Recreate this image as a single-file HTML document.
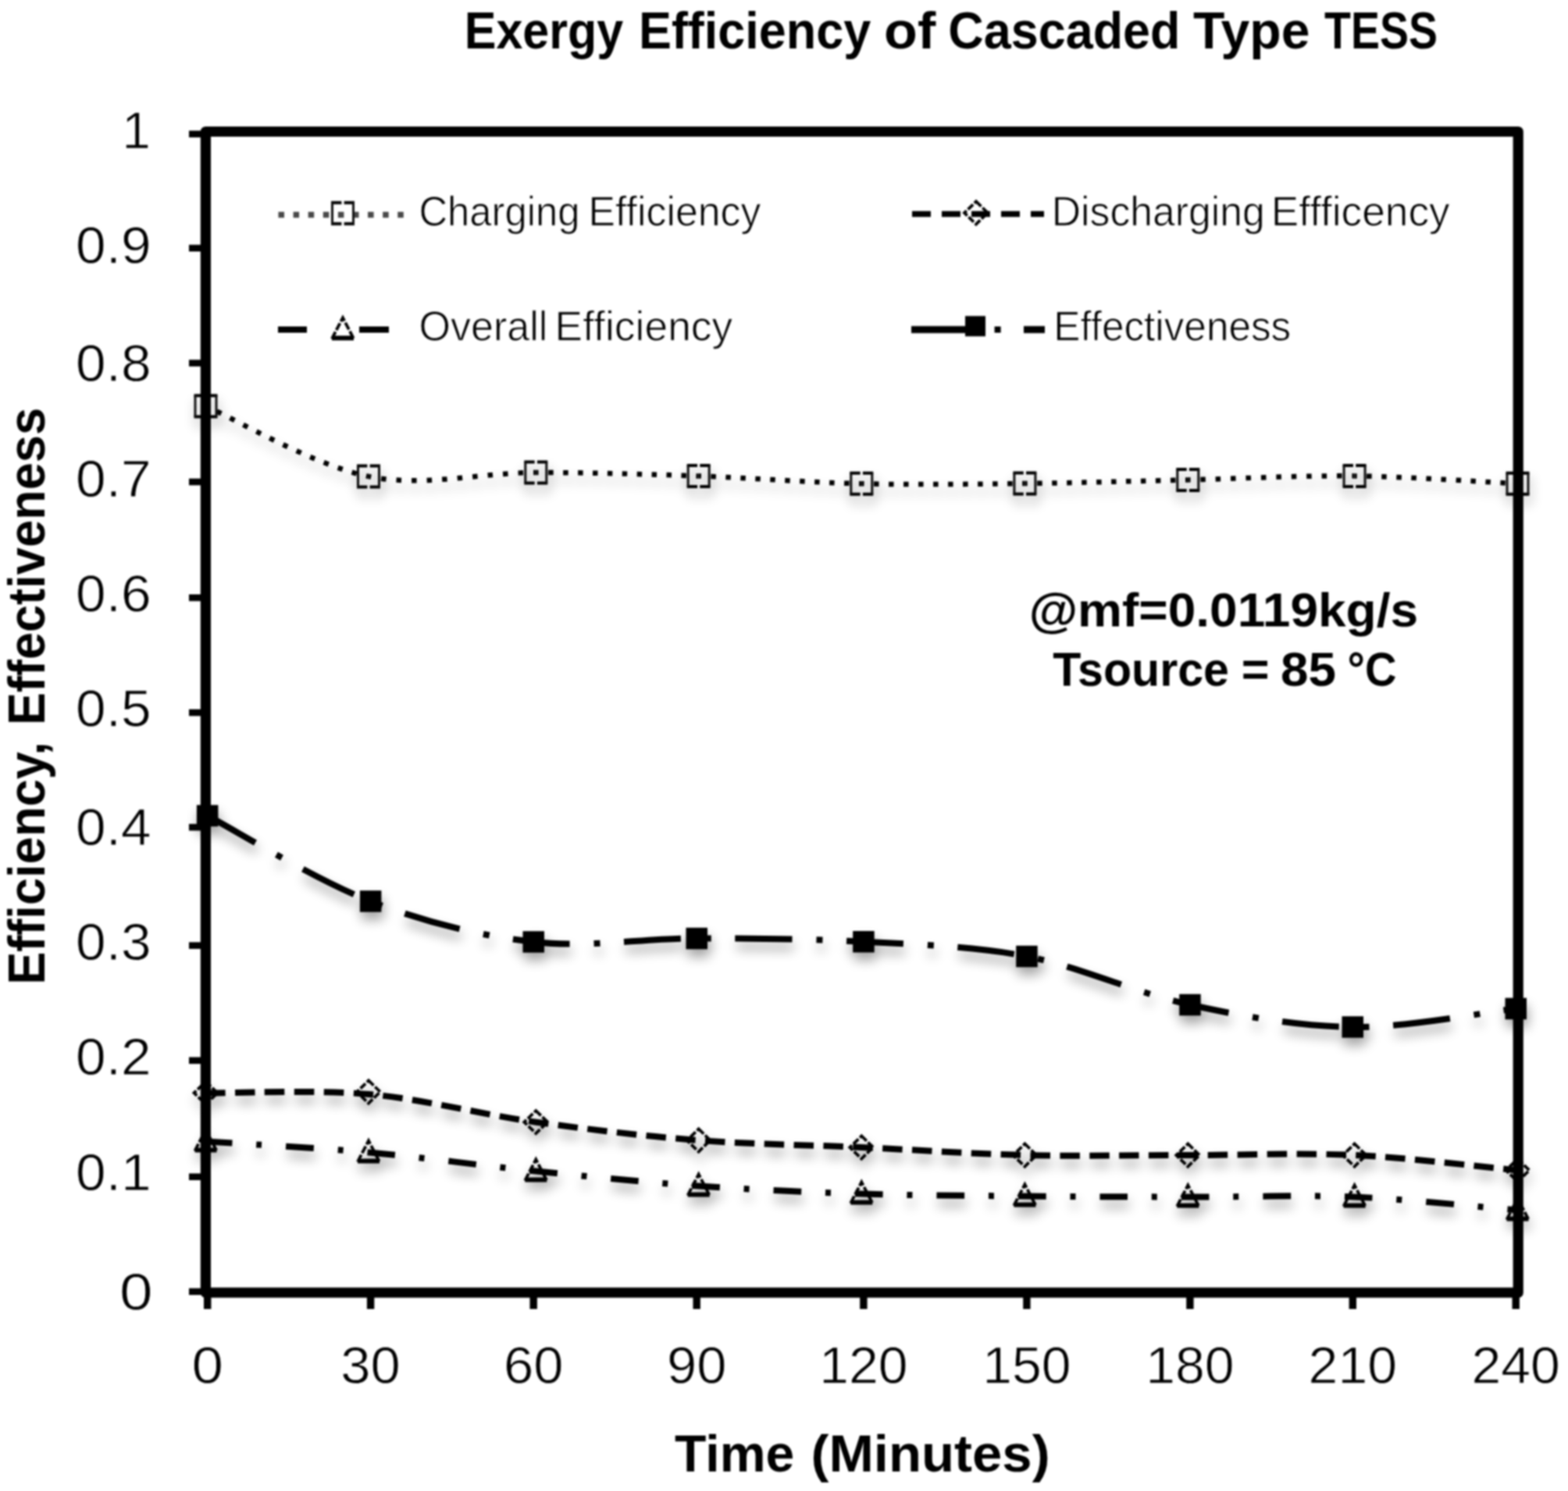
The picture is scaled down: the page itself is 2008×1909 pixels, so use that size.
<!DOCTYPE html>
<html><head><meta charset="utf-8"><title>Exergy Efficiency of Cascaded Type TESS</title>
<style>html,body{margin:0;padding:0;background:#fff;}body{width:2008px;height:1909px;overflow:hidden;}svg{display:block;filter:blur(1.1px);}</style>
</head><body>
<svg width="2008" height="1909" viewBox="0 0 2008 1909"><defs><filter id="sh" x="-5%" y="-10%" width="110%" height="130%"><feGaussianBlur in="SourceAlpha" stdDeviation="7.5"/><feOffset dx="2" dy="10" result="b"/><feComponentTransfer in="b" result="c"><feFuncA type="linear" slope="0.36"/></feComponentTransfer><feMerge><feMergeNode in="c"/><feMergeNode in="SourceGraphic"/></feMerge></filter></defs>
<text y="62.0" font-family="Liberation Sans, sans-serif" font-weight="bold" font-size="67" ><tspan x="594.7" textLength="203.6" lengthAdjust="spacingAndGlyphs">Exergy</tspan> <tspan x="817.9" textLength="297.5" lengthAdjust="spacingAndGlyphs">Efficiency</tspan> <tspan x="1132.1" textLength="66.2" lengthAdjust="spacingAndGlyphs">of</tspan> <tspan x="1214.3" textLength="297.2" lengthAdjust="spacingAndGlyphs">Cascaded</tspan> <tspan x="1528.0" textLength="149.4" lengthAdjust="spacingAndGlyphs">Type</tspan> <tspan x="1696.0" textLength="145.0" lengthAdjust="spacingAndGlyphs">TESS</tspan></text>
<text x="195.5" y="1676.7" text-anchor="end" font-family="Liberation Sans, sans-serif" font-size="66" textLength="42.6" lengthAdjust="spacingAndGlyphs" stroke="#fff" stroke-width="0.8">0</text>
<text x="193.5" y="1524.0" text-anchor="end" font-family="Liberation Sans, sans-serif" font-size="66" textLength="96.4" lengthAdjust="spacingAndGlyphs" stroke="#fff" stroke-width="0.8">0.1</text>
<text x="193.5" y="1376.4" text-anchor="end" font-family="Liberation Sans, sans-serif" font-size="66" textLength="96.4" lengthAdjust="spacingAndGlyphs" stroke="#fff" stroke-width="0.8">0.2</text>
<text x="193.5" y="1229.3" text-anchor="end" font-family="Liberation Sans, sans-serif" font-size="66" textLength="96.4" lengthAdjust="spacingAndGlyphs" stroke="#fff" stroke-width="0.8">0.3</text>
<text x="193.5" y="1082.1" text-anchor="end" font-family="Liberation Sans, sans-serif" font-size="66" textLength="96.4" lengthAdjust="spacingAndGlyphs" stroke="#fff" stroke-width="0.8">0.4</text>
<text x="193.5" y="930.0" text-anchor="end" font-family="Liberation Sans, sans-serif" font-size="66" textLength="96.4" lengthAdjust="spacingAndGlyphs" stroke="#fff" stroke-width="0.8">0.5</text>
<text x="193.5" y="782.9" text-anchor="end" font-family="Liberation Sans, sans-serif" font-size="66" textLength="96.4" lengthAdjust="spacingAndGlyphs" stroke="#fff" stroke-width="0.8">0.6</text>
<text x="193.5" y="635.7" text-anchor="end" font-family="Liberation Sans, sans-serif" font-size="66" textLength="96.4" lengthAdjust="spacingAndGlyphs" stroke="#fff" stroke-width="0.8">0.7</text>
<text x="193.5" y="488.3" text-anchor="end" font-family="Liberation Sans, sans-serif" font-size="66" textLength="96.4" lengthAdjust="spacingAndGlyphs" stroke="#fff" stroke-width="0.8">0.8</text>
<text x="193.5" y="336.9" text-anchor="end" font-family="Liberation Sans, sans-serif" font-size="66" textLength="96.4" lengthAdjust="spacingAndGlyphs" stroke="#fff" stroke-width="0.8">0.9</text>
<text x="193" y="189.7" text-anchor="end" font-family="Liberation Sans, sans-serif" font-size="66" stroke="#fff" stroke-width="0.8">1</text>
<text x="265.7" y="1771" text-anchor="middle" font-family="Liberation Sans, sans-serif" font-size="66" textLength="40.5" lengthAdjust="spacingAndGlyphs" stroke="#fff" stroke-width="0.8">0</text>
<text x="474.6" y="1771" text-anchor="middle" font-family="Liberation Sans, sans-serif" font-size="66" textLength="76.5" lengthAdjust="spacingAndGlyphs" stroke="#fff" stroke-width="0.8">30</text>
<text x="683.2" y="1771" text-anchor="middle" font-family="Liberation Sans, sans-serif" font-size="66" textLength="76.5" lengthAdjust="spacingAndGlyphs" stroke="#fff" stroke-width="0.8">60</text>
<text x="892.2" y="1771" text-anchor="middle" font-family="Liberation Sans, sans-serif" font-size="66" textLength="76.5" lengthAdjust="spacingAndGlyphs" stroke="#fff" stroke-width="0.8">90</text>
<text x="1105.9" y="1771" text-anchor="middle" font-family="Liberation Sans, sans-serif" font-size="66" textLength="113.5" lengthAdjust="spacingAndGlyphs" stroke="#fff" stroke-width="0.8">120</text>
<text x="1314.9" y="1771" text-anchor="middle" font-family="Liberation Sans, sans-serif" font-size="66" textLength="113.5" lengthAdjust="spacingAndGlyphs" stroke="#fff" stroke-width="0.8">150</text>
<text x="1523.9" y="1771" text-anchor="middle" font-family="Liberation Sans, sans-serif" font-size="66" textLength="113.5" lengthAdjust="spacingAndGlyphs" stroke="#fff" stroke-width="0.8">180</text>
<text x="1732.3" y="1771" text-anchor="middle" font-family="Liberation Sans, sans-serif" font-size="66" textLength="113.5" lengthAdjust="spacingAndGlyphs" stroke="#fff" stroke-width="0.8">210</text>
<text x="1941.2" y="1771" text-anchor="middle" font-family="Liberation Sans, sans-serif" font-size="66" textLength="113.5" lengthAdjust="spacingAndGlyphs" stroke="#fff" stroke-width="0.8">240</text>
<text y="1884.3" font-family="Liberation Sans, sans-serif" font-weight="bold" font-size="67" ><tspan x="864.0" textLength="153.4" lengthAdjust="spacingAndGlyphs">Time</tspan> <tspan x="1038.5" textLength="306.1" lengthAdjust="spacingAndGlyphs">(Minutes)</tspan></text>
<text transform="translate(56.5,1257) rotate(-90)" y="0.0" font-family="Liberation Sans, sans-serif" font-weight="bold" font-size="67" ><tspan x="-3.8" textLength="311.1" lengthAdjust="spacingAndGlyphs">Efficiency,</tspan> <tspan x="328.4" textLength="406.6" lengthAdjust="spacingAndGlyphs">Effectiveness</tspan></text>
<text y="801.6" font-family="Liberation Sans, sans-serif" font-weight="bold" font-size="61" ><tspan x="1317.7" textLength="498.4" lengthAdjust="spacingAndGlyphs">@mf=0.0119kg/s</tspan></text>
<text y="878.2" font-family="Liberation Sans, sans-serif" font-weight="bold" font-size="61" ><tspan x="1348.3" textLength="225.7" lengthAdjust="spacingAndGlyphs">Tsource</tspan> <tspan x="1589.8" textLength="35.7" lengthAdjust="spacingAndGlyphs">=</tspan> <tspan x="1640.0" textLength="71.0" lengthAdjust="spacingAndGlyphs">85</tspan> <tspan x="1725.5" textLength="62.9" lengthAdjust="spacingAndGlyphs">°C</tspan></text>
<line x1="356.5" y1="275" x2="520" y2="275" stroke="#484848" stroke-width="7.5" stroke-dasharray="7.5 11.6"/>
<path d="M424.0,259.5 H454.0 M424.0,286.5 H454.0" fill="none" stroke="#000" stroke-width="4" stroke-dasharray="13.38 3.24 13.38 0"/><path d="M425.5,259.5 V286.5 M452.5,259.5 V286.5" fill="none" stroke="#111" stroke-width="3"/>
<text y="289.3" font-family="Liberation Sans, sans-serif" font-weight="normal" font-size="53" fill="#000" stroke="#fff" stroke-width="0.9"><tspan x="536.4" textLength="206.2" lengthAdjust="spacingAndGlyphs">Charging</tspan> <tspan x="753.5" textLength="220.9" lengthAdjust="spacingAndGlyphs">Efficiency</tspan></text>
<line x1="1168" y1="274" x2="1337" y2="274" stroke="#000" stroke-width="7.5" stroke-dasharray="24 14"/>
<path d="M1250.0,258.0 L1265.0,272.5 L1250.0,287.0 L1235.0,272.5 Z" fill="none" stroke="#000" stroke-width="3.8" stroke-dasharray="9 2.5"/>
<text y="288.5" font-family="Liberation Sans, sans-serif" font-weight="normal" font-size="53" fill="#000" stroke="#fff" stroke-width="0.9"><tspan x="1346.7" textLength="273.1" lengthAdjust="spacingAndGlyphs">Discharging</tspan> <tspan x="1627.8" textLength="228.9" lengthAdjust="spacingAndGlyphs">Effficency</tspan></text>
<line x1="356" y1="422" x2="393" y2="422" stroke="#000" stroke-width="8"/>
<line x1="460" y1="422" x2="498" y2="422" stroke="#000" stroke-width="8"/>
<path d="M425.0,432.8 L453.0,432.8" fill="none" stroke="#000" stroke-width="6"/><path d="M425.0,433.8 L439.0,406.8 L453.0,433.8" fill="none" stroke="#000" stroke-width="3.8" stroke-dasharray="10 2.5"/>
<text y="436.0" font-family="Liberation Sans, sans-serif" font-weight="normal" font-size="53" fill="#000" stroke="#fff" stroke-width="0.9"><tspan x="536.4" textLength="165.0" lengthAdjust="spacingAndGlyphs">Overall</tspan> <tspan x="710.6" textLength="227.7" lengthAdjust="spacingAndGlyphs">Efficiency</tspan></text>
<line x1="1167" y1="422" x2="1240" y2="422" stroke="#000" stroke-width="9"/>
<rect x="1236.0" y="404.6" width="26.0" height="26.0" fill="#000"/>
<rect x="1273.6" y="418" width="8" height="8" fill="#000"/>
<line x1="1311" y1="422" x2="1338" y2="422" stroke="#000" stroke-width="9"/>
<text y="436.4" font-family="Liberation Sans, sans-serif" font-weight="normal" font-size="53" fill="#000" stroke="#fff" stroke-width="0.9"><tspan x="1349.2" textLength="304.0" lengthAdjust="spacingAndGlyphs">Effectiveness</tspan></text>
<g filter="url(#sh)"><path d="M263.5,520.0 C298.2,535.0 401.5,595.8 472.0,610.0" fill="none" stroke="#000" stroke-width="6.5" stroke-dasharray="6.5 12.474" stroke-dashoffset="3.25"/><path d="M472.0,610.0 C542.5,624.2 615.8,605.1 686.3,605.0" fill="none" stroke="#000" stroke-width="6.5" stroke-dasharray="6.5 13.048" stroke-dashoffset="3.25"/><path d="M686.3,605.0 C756.8,604.9 825.2,607.1 894.7,609.5" fill="none" stroke="#000" stroke-width="6.5" stroke-dasharray="6.5 12.451" stroke-dashoffset="3.25"/><path d="M894.7,609.5 C964.2,611.9 1033.7,617.7 1103.3,619.3" fill="none" stroke="#000" stroke-width="6.5" stroke-dasharray="6.5 12.485" stroke-dashoffset="3.25"/><path d="M1103.3,619.3 C1172.9,620.9 1242.7,619.8 1312.4,619.0" fill="none" stroke="#000" stroke-width="6.5" stroke-dasharray="6.5 12.510" stroke-dashoffset="3.25"/><path d="M1312.4,619.0 C1382.1,618.2 1450.9,616.0 1521.3,614.4" fill="none" stroke="#000" stroke-width="6.5" stroke-dasharray="6.5 12.496" stroke-dashoffset="3.25"/><path d="M1521.3,614.4 C1591.7,612.8 1664.2,608.6 1734.6,609.4" fill="none" stroke="#000" stroke-width="6.5" stroke-dasharray="6.5 12.898" stroke-dashoffset="3.25"/><path d="M1734.6,609.4 C1805.0,610.2 1908.7,617.6 1943.5,619.3" fill="none" stroke="#000" stroke-width="6.5" stroke-dasharray="6.5 12.514" stroke-dashoffset="3.25"/><path d="M265.7,1044.4 C300.5,1062.7 405.0,1127.1 474.6,1154.0 C544.2,1180.9 613.6,1198.1 683.2,1206.0 C752.8,1213.9 821.8,1201.5 892.2,1201.5 C962.7,1201.5 1035.5,1201.9 1105.9,1205.7 C1176.4,1209.5 1245.2,1211.1 1314.9,1224.6 C1384.6,1238.1 1454.3,1271.4 1523.9,1286.5 C1593.5,1301.6 1662.8,1314.2 1732.3,1315.0 C1801.8,1315.8 1906.4,1295.3 1941.2,1291.4" fill="none" stroke="#000" stroke-width="8" stroke-dasharray="73 31 8 30.55" stroke-dashoffset="2.54"/><path d="M263.5,1399.5 C298.2,1399.8 401.5,1394.8 472.0,1401.0 C542.5,1407.2 615.8,1426.9 686.3,1436.7 C756.8,1446.5 825.2,1454.6 894.7,1460.0 C964.2,1465.4 1033.7,1465.8 1103.3,1469.0 C1172.9,1472.2 1242.7,1477.3 1312.4,1479.0 C1382.1,1480.7 1450.9,1479.0 1521.3,1479.0 C1591.7,1479.0 1664.2,1475.8 1734.6,1479.0 C1805.0,1482.2 1908.7,1495.2 1943.5,1498.4" fill="none" stroke="#000" stroke-width="8" stroke-dasharray="25.5 12.4" stroke-dashoffset="0.33"/><path d="M263.5,1461.5 C298.2,1463.8 401.5,1469.2 472.0,1475.5 C542.5,1481.8 615.8,1492.3 686.3,1499.5 C756.8,1506.7 825.2,1513.7 894.7,1518.5 C964.2,1523.3 1033.7,1526.3 1103.3,1528.5 C1172.9,1530.7 1242.7,1530.8 1312.4,1531.5 C1382.1,1532.2 1450.9,1532.3 1521.3,1532.5 C1591.7,1532.7 1664.2,1529.7 1734.6,1532.5 C1805.0,1535.3 1908.7,1546.7 1943.5,1549.5" fill="none" stroke="#000" stroke-width="8" stroke-dasharray="35.7 30.8 7 31" stroke-dashoffset="1.59"/><path d="M248.5,506.5 H278.5 M248.5,533.5 H278.5" fill="none" stroke="#000" stroke-width="4" stroke-dasharray="13.38 3.24 13.38 0"/><path d="M250.0,506.5 V533.5 M277.0,506.5 V533.5" fill="none" stroke="#111" stroke-width="3"/><path d="M457.0,596.5 H487.0 M457.0,623.5 H487.0" fill="none" stroke="#000" stroke-width="4" stroke-dasharray="13.38 3.24 13.38 0"/><path d="M458.5,596.5 V623.5 M485.5,596.5 V623.5" fill="none" stroke="#111" stroke-width="3"/><path d="M671.3,591.5 H701.3 M671.3,618.5 H701.3" fill="none" stroke="#000" stroke-width="4" stroke-dasharray="13.38 3.24 13.38 0"/><path d="M672.8,591.5 V618.5 M699.8,591.5 V618.5" fill="none" stroke="#111" stroke-width="3"/><path d="M879.7,596.0 H909.7 M879.7,623.0 H909.7" fill="none" stroke="#000" stroke-width="4" stroke-dasharray="13.38 3.24 13.38 0"/><path d="M881.2,596.0 V623.0 M908.2,596.0 V623.0" fill="none" stroke="#111" stroke-width="3"/><path d="M1088.3,605.8 H1118.3 M1088.3,632.8 H1118.3" fill="none" stroke="#000" stroke-width="4" stroke-dasharray="13.38 3.24 13.38 0"/><path d="M1089.8,605.8 V632.8 M1116.8,605.8 V632.8" fill="none" stroke="#111" stroke-width="3"/><path d="M1297.4,605.5 H1327.4 M1297.4,632.5 H1327.4" fill="none" stroke="#000" stroke-width="4" stroke-dasharray="13.38 3.24 13.38 0"/><path d="M1298.9,605.5 V632.5 M1325.9,605.5 V632.5" fill="none" stroke="#111" stroke-width="3"/><path d="M1506.3,600.9 H1536.3 M1506.3,627.9 H1536.3" fill="none" stroke="#000" stroke-width="4" stroke-dasharray="13.38 3.24 13.38 0"/><path d="M1507.8,600.9 V627.9 M1534.8,600.9 V627.9" fill="none" stroke="#111" stroke-width="3"/><path d="M1719.6,595.9 H1749.6 M1719.6,622.9 H1749.6" fill="none" stroke="#000" stroke-width="4" stroke-dasharray="13.38 3.24 13.38 0"/><path d="M1721.1,595.9 V622.9 M1748.1,595.9 V622.9" fill="none" stroke="#111" stroke-width="3"/><path d="M1928.5,605.8 H1958.5 M1928.5,632.8 H1958.5" fill="none" stroke="#000" stroke-width="4" stroke-dasharray="13.38 3.24 13.38 0"/><path d="M1930.0,605.8 V632.8 M1957.0,605.8 V632.8" fill="none" stroke="#111" stroke-width="3"/><rect x="251.9" y="1030.7" width="27.5" height="27.5" fill="#000"/><rect x="460.9" y="1140.2" width="27.5" height="27.5" fill="#000"/><rect x="669.5" y="1192.2" width="27.5" height="27.5" fill="#000"/><rect x="878.5" y="1187.8" width="27.5" height="27.5" fill="#000"/><rect x="1092.2" y="1192.0" width="27.5" height="27.5" fill="#000"/><rect x="1301.2" y="1210.8" width="27.5" height="27.5" fill="#000"/><rect x="1510.2" y="1272.8" width="27.5" height="27.5" fill="#000"/><rect x="1718.5" y="1301.2" width="27.5" height="27.5" fill="#000"/><rect x="1927.5" y="1277.7" width="27.5" height="27.5" fill="#000"/><path d="M263.5,1384.8 L278.5,1399.3 L263.5,1413.8 L248.5,1399.3 Z" fill="none" stroke="#000" stroke-width="3.8" stroke-dasharray="9 2.5"/><path d="M472.0,1383.5 L487.0,1398.0 L472.0,1412.5 L457.0,1398.0 Z" fill="none" stroke="#000" stroke-width="3.8" stroke-dasharray="9 2.5"/><path d="M686.3,1422.2 L701.3,1436.7 L686.3,1451.2 L671.3,1436.7 Z" fill="none" stroke="#000" stroke-width="3.8" stroke-dasharray="9 2.5"/><path d="M894.7,1445.5 L909.7,1460.0 L894.7,1474.5 L879.7,1460.0 Z" fill="none" stroke="#000" stroke-width="3.8" stroke-dasharray="9 2.5"/><path d="M1103.3,1454.5 L1118.3,1469.0 L1103.3,1483.5 L1088.3,1469.0 Z" fill="none" stroke="#000" stroke-width="3.8" stroke-dasharray="9 2.5"/><path d="M1312.4,1464.5 L1327.4,1479.0 L1312.4,1493.5 L1297.4,1479.0 Z" fill="none" stroke="#000" stroke-width="3.8" stroke-dasharray="9 2.5"/><path d="M1521.3,1464.5 L1536.3,1479.0 L1521.3,1493.5 L1506.3,1479.0 Z" fill="none" stroke="#000" stroke-width="3.8" stroke-dasharray="9 2.5"/><path d="M1734.6,1464.5 L1749.6,1479.0 L1734.6,1493.5 L1719.6,1479.0 Z" fill="none" stroke="#000" stroke-width="3.8" stroke-dasharray="9 2.5"/><path d="M1943.5,1483.9 L1958.5,1498.4 L1943.5,1512.9 L1928.5,1498.4 Z" fill="none" stroke="#000" stroke-width="3.8" stroke-dasharray="9 2.5"/><path d="M249.5,1472.5 L277.5,1472.5" fill="none" stroke="#000" stroke-width="6"/><path d="M249.5,1473.5 L263.5,1446.5 L277.5,1473.5" fill="none" stroke="#000" stroke-width="3.8" stroke-dasharray="10 2.5"/><path d="M458.0,1486.5 L486.0,1486.5" fill="none" stroke="#000" stroke-width="6"/><path d="M458.0,1487.5 L472.0,1460.5 L486.0,1487.5" fill="none" stroke="#000" stroke-width="3.8" stroke-dasharray="10 2.5"/><path d="M672.3,1510.5 L700.3,1510.5" fill="none" stroke="#000" stroke-width="6"/><path d="M672.3,1511.5 L686.3,1484.5 L700.3,1511.5" fill="none" stroke="#000" stroke-width="3.8" stroke-dasharray="10 2.5"/><path d="M880.7,1529.5 L908.7,1529.5" fill="none" stroke="#000" stroke-width="6"/><path d="M880.7,1530.5 L894.7,1503.5 L908.7,1530.5" fill="none" stroke="#000" stroke-width="3.8" stroke-dasharray="10 2.5"/><path d="M1089.3,1539.5 L1117.3,1539.5" fill="none" stroke="#000" stroke-width="6"/><path d="M1089.3,1540.5 L1103.3,1513.5 L1117.3,1540.5" fill="none" stroke="#000" stroke-width="3.8" stroke-dasharray="10 2.5"/><path d="M1298.4,1542.5 L1326.4,1542.5" fill="none" stroke="#000" stroke-width="6"/><path d="M1298.4,1543.5 L1312.4,1516.5 L1326.4,1543.5" fill="none" stroke="#000" stroke-width="3.8" stroke-dasharray="10 2.5"/><path d="M1507.3,1543.5 L1535.3,1543.5" fill="none" stroke="#000" stroke-width="6"/><path d="M1507.3,1544.5 L1521.3,1517.5 L1535.3,1544.5" fill="none" stroke="#000" stroke-width="3.8" stroke-dasharray="10 2.5"/><path d="M1720.6,1543.5 L1748.6,1543.5" fill="none" stroke="#000" stroke-width="6"/><path d="M1720.6,1544.5 L1734.6,1517.5 L1748.6,1544.5" fill="none" stroke="#000" stroke-width="3.8" stroke-dasharray="10 2.5"/><path d="M1929.5,1560.5 L1957.5,1560.5" fill="none" stroke="#000" stroke-width="6"/><path d="M1929.5,1561.5 L1943.5,1534.5 L1957.5,1561.5" fill="none" stroke="#000" stroke-width="3.8" stroke-dasharray="10 2.5"/></g>
<rect x="263.4" y="168.5" width="1680.8" height="1486.5" fill="none" stroke="#000" stroke-width="13.2" stroke-linejoin="round"/>
<rect x="242" y="1649.4" width="20" height="8.6" fill="#000"/>
<rect x="242" y="1502.4" width="20" height="8.6" fill="#000"/>
<rect x="242" y="1353.5" width="20" height="8.6" fill="#000"/>
<rect x="242" y="1206.3" width="20" height="8.6" fill="#000"/>
<rect x="242" y="1054.9" width="20" height="8.6" fill="#000"/>
<rect x="242" y="908.1" width="20" height="8.6" fill="#000"/>
<rect x="242" y="761.0" width="20" height="8.6" fill="#000"/>
<rect x="242" y="612.7" width="20" height="8.6" fill="#000"/>
<rect x="242" y="460.6" width="20" height="8.6" fill="#000"/>
<rect x="242" y="313.4" width="20" height="8.6" fill="#000"/>
<rect x="242" y="167.3" width="20" height="8.6" fill="#000"/>
<rect x="261.0" y="1655" width="9.4" height="21" fill="#000"/>
<rect x="469.9" y="1655" width="9.4" height="21" fill="#000"/>
<rect x="678.5" y="1655" width="9.4" height="21" fill="#000"/>
<rect x="887.5" y="1655" width="9.4" height="21" fill="#000"/>
<rect x="1101.2" y="1655" width="9.4" height="21" fill="#000"/>
<rect x="1310.2" y="1655" width="9.4" height="21" fill="#000"/>
<rect x="1519.2" y="1655" width="9.4" height="21" fill="#000"/>
<rect x="1727.6" y="1655" width="9.4" height="21" fill="#000"/>
<rect x="1936.5" y="1655" width="9.4" height="21" fill="#000"/></svg>
</body></html>
